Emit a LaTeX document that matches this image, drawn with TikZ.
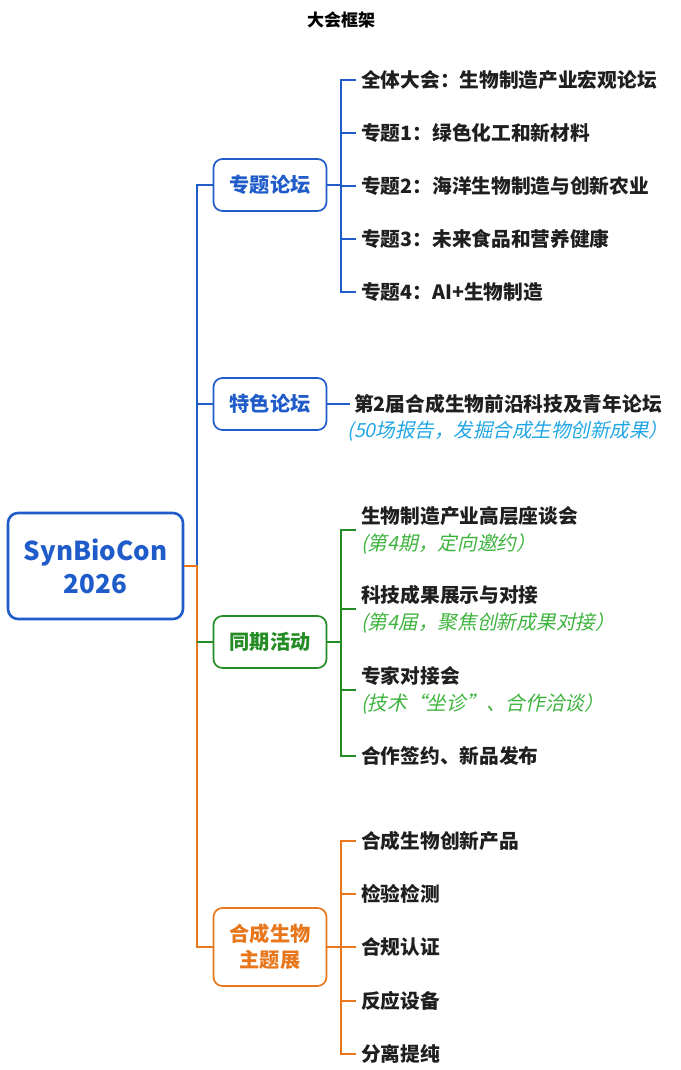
\documentclass[tikz,border=0pt]{standalone}
\usepackage{fontspec}
\setmainfont{Noto Sans CJK SC}[ItalicFont=Noto Sans CJK SC, ItalicFeatures={FakeSlant=0.22}, BoldItalicFont=Noto Sans CJK SC Bold, BoldItalicFeatures={FakeSlant=0.22}]
\usepackage{xcolor}
\usepackage{tikz}
\usetikzlibrary{positioning}
\definecolor{mapblue}{RGB}{31,92,201}
\definecolor{maporange}{RGB}{232,118,26}
\definecolor{mapgreen}{RGB}{36,140,36}
\definecolor{notegreen}{RGB}{62,180,62}
\definecolor{noteblue}{RGB}{33,166,230}
\tikzstyle{root} = [rectangle, rounded corners=10pt, minimum width=175pt, minimum height=106pt, text centered, draw=mapblue, text=mapblue, line width=2.6pt, font=\fontsize{26}{33}\selectfont\bfseries, align=center]
\tikzstyle{topic} = [rectangle, rounded corners=9pt, minimum width=113pt, minimum height=52pt, text centered, line width=1.7pt, fill=white, font=\fontsize{20.2}{26}\selectfont\bfseries, align=center]
\tikzstyle{leaf} = [anchor=west, inner sep=5pt, text=black!88, font=\fontsize{19.7}{27}\selectfont\bfseries, align=left]
\tikzstyle{note} = [inner sep=0pt, font=\fontsize{19.5}{27}\selectfont\mdseries\itshape]
\tikzstyle{trunk} = [line width=2.8pt]
\tikzstyle{twig} = [line width=1.9pt]

\begin{document}
\begin{tikzpicture}[x=1pt, y=-1pt]
        \useasboundingbox (0,0) rectangle (680,1070);
        \node (title) at (341,20) [font=\fontsize{17}{20}\selectfont\bfseries] {大会框架};

        % Root
        \node (syn) [root] at (95.5,566) {SynBioCon\\2026};
        \coordinate (fork) at (197,566);

        % Branch Layer
        \node (zt) [topic, draw=mapblue, text=mapblue] at (270,185) {专题论坛};
        \node (ts) [topic, draw=mapblue, text=mapblue] at (270,404) {特色论坛};
        \node (tq) [topic, draw=mapgreen, text=mapgreen] at (270,642) {同期活动};
        \node (hc) [topic, draw=maporange, text=maporange, minimum height=78pt] at (270,947) {合成生物\\主题展};

        % Forum Topics
        \node (zt1) [leaf] at (356,80) {全体大会：生物制造产业宏观论坛};
        \node (zt2) [leaf] at (356,133) {专题1：绿色化工和新材料};
        \node (zt3) [leaf] at (356,186) {专题2：海洋生物制造与创新农业};
        \node (zt4) [leaf] at (356,239) {专题3：未来食品和营养健康};
        \node (zt5) [leaf] at (356,292) {专题4：AI+生物制造};

        % Featured Forum
        \node (ts1) [leaf, inner sep=4pt] at (350,404) {第2届合成生物前沿科技及青年论坛};
        \node (ts1n) [note, text=noteblue, below=3pt of ts1] {(50场报告，发掘合成生物创新成果）};

        % Side Events
        \node (tq1) [leaf] at (356,530) {生物制造产业高层座谈会\\\textcolor{notegreen}{\mdseries\itshape (第4期，定向邀约）}};
        \node (tq2) [leaf] at (356,609) {科技成果展示与对接\\\textcolor{notegreen}{\mdseries\itshape (第4届，聚焦创新成果对接）}};
        \node (tq3) [leaf] at (356,690) {专家对接会\\\textcolor{notegreen}{\mdseries\itshape (技术“坐诊”、合作洽谈）}};
        \node (tq4) [leaf] at (356,756) {合作签约、新品发布};

        % Exhibition
        \node (hc1) [leaf] at (356,841) {合成生物创新产品};
        \node (hc2) [leaf] at (356,894) {检验检测};
        \node (hc3) [leaf] at (356,947) {合规认证};
        \node (hc4) [leaf] at (356,1001) {反应设备};
        \node (hc5) [leaf] at (356,1054) {分离提纯};

        % Connections
        \draw [trunk, mapblue] (syn.east) -- (fork) |- (zt.west);
        \draw [trunk, mapblue] (fork) |- (ts.west);
        \draw [trunk, maporange] (syn.east) -- (fork) |- (hc.west);
        \draw [trunk, maporange] (fork) |- (tq.west);
        \draw [trunk, mapgreen] (fork |- tq.west) -- (tq.west);

        \draw [twig, mapblue] (zt.east) -- ++(13.5,0) |- (zt1.west);
        \draw [twig, mapblue] (zt.east) -- ++(13.5,0) |- (zt2.west);
        \draw [twig, mapblue] (zt.east) -- ++(13.5,0) |- (zt3.west);
        \draw [twig, mapblue] (zt.east) -- ++(13.5,0) |- (zt4.west);
        \draw [twig, mapblue] (zt.east) -- ++(13.5,0) |- (zt5.west);

        \draw [twig, mapblue] (ts.east) -- (ts1.west);

        \draw [twig, mapgreen] (tq.east) -- ++(14,0) |- (tq1.west);
        \draw [twig, mapgreen] (tq.east) -- ++(14,0) |- (tq2.west);
        \draw [twig, mapgreen] (tq.east) -- ++(14,0) |- (tq3.west);
        \draw [twig, mapgreen] (tq.east) -- ++(14,0) |- (tq4.west);

        \draw [twig, maporange] (hc.east) -- ++(14,0) |- (hc1.west);
        \draw [twig, maporange] (hc.east) -- ++(14,0) |- (hc2.west);
        \draw [twig, maporange] (hc.east) -- ++(14,0) |- (hc3.west);
        \draw [twig, maporange] (hc.east) -- ++(14,0) |- (hc4.west);
        \draw [twig, maporange] (hc.east) -- ++(14,0) |- (hc5.west);
    \end{tikzpicture}
\end{document}
